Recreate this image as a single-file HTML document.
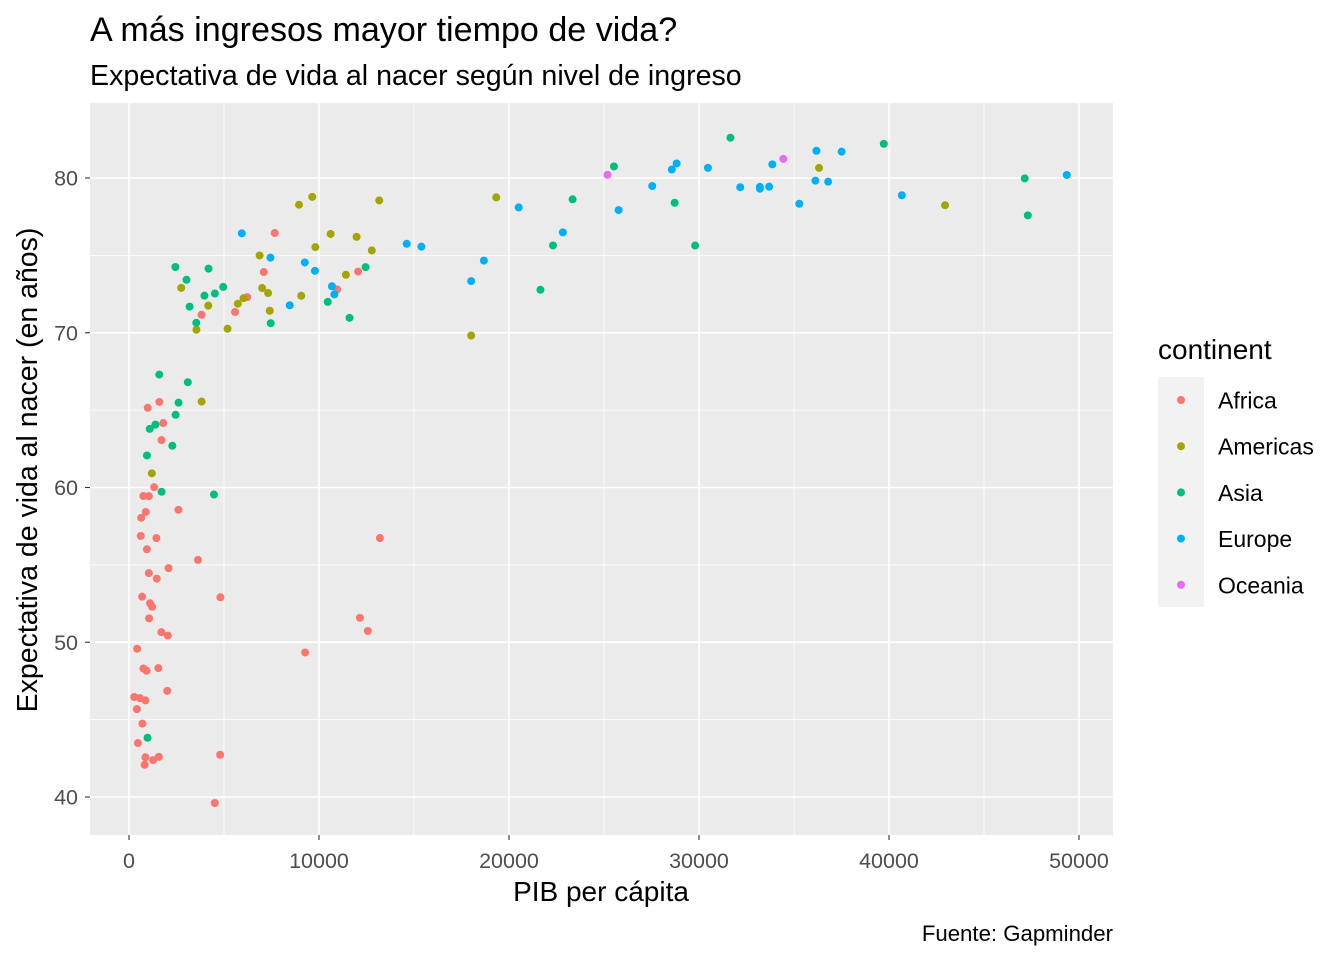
<!DOCTYPE html>
<html><head><meta charset="utf-8"><style>
body{margin:0;background:#fff;}
svg{display:block;font-family:"Liberation Sans",Arial,sans-serif;}
</style></head><body>
<svg id="chart" width="1344" height="960" xmlns="http://www.w3.org/2000/svg">
<text x="90" y="41" font-size="34.1" fill="#000">A más ingresos mayor tiempo de vida?</text>
<text x="90" y="85" font-size="28.6" fill="#000">Expectativa de vida al nacer según nivel de ingreso</text>
<rect x="90" y="103" width="1023" height="732" fill="#EBEBEB"/>
<g id="grid"></g>
<g id="points"></g>
<g id="axes"></g>
<text x="601" y="901" font-size="28" text-anchor="middle">PIB per cápita</text>
<text transform="translate(37,470) rotate(-90)" font-size="28.5" text-anchor="middle">Expectativa de vida al nacer (en años)</text>
<text x="1113" y="941" font-size="22.2" text-anchor="end">Fuente: Gapminder</text>
<g id="legend">
<text x="1158" y="359" font-size="28">continent</text>
</g>
</svg>
<script>
const continents=["Africa","Americas","Asia","Europe","Oceania"];
const colors=["#F8766D","#A3A500","#00BF7D","#00B0F6","#E76BF3"];
const xTicks=[0,10000,20000,30000,40000,50000];
const yTicks=[40,50,60,70,80];
// [gdpPercap, lifeExp] per continent
const africa=[[6223.4,72.301],[4797.2,42.731],[1441.3,56.728],[12569.9,50.728],[1217.0,52.295],[430.1,49.580],[2042.1,50.430],[706.0,44.741],[1704.1,50.651],[986.1,65.152],[277.6,46.462],[3632.6,55.322],[1544.8,48.328],[2082.5,54.791],[5581.2,71.338],[12154.1,51.579],[641.4,58.040],[690.8,52.947],[13206.5,56.735],[752.7,59.448],[1327.6,60.022],[942.7,56.007],[579.2,46.388],[1463.2,54.110],[1569.3,42.592],[414.5,45.678],[12057.5,73.952],[1044.8,59.443],[759.3,48.303],[1042.6,54.467],[1803.2,64.164],[10957.0,72.801],[3820.2,71.164],[823.7,42.082],[4811.1,52.906],[619.7,56.867],[2014.0,46.859],[7670.1,76.442],[863.1,46.242],[1598.4,65.528],[1712.5,63.062],[862.5,42.568],[926.1,48.159],[9269.7,49.339],[2602.4,58.556],[4513.5,39.613],[1107.5,52.517],[883.0,58.420],[7092.9,73.923],[1056.4,51.542],[1271.2,42.384],[469.7,43.487]];
const americas=[[12779.4,75.320],[3822.1,65.554],[9065.8,72.390],[36319.2,80.653],[13171.6,78.553],[7006.6,72.889],[9645.1,78.782],[8948.1,78.273],[6025.4,72.235],[6873.3,74.994],[5728.4,71.878],[5186.1,70.259],[1201.6,60.916],[3548.3,70.198],[7320.9,72.567],[11977.6,76.195],[2749.3,72.899],[9809.2,75.537],[4172.8,71.752],[7408.9,71.421],[19328.7,78.746],[18008.5,69.819],[42951.7,78.242],[10611.5,76.384],[11415.8,73.747]];
const asia=[[974.6,43.828],[29796.0,75.635],[1391.3,64.062],[1713.8,59.723],[4959.1,72.961],[39725.0,82.208],[2452.2,64.698],[3540.7,70.650],[11605.7,70.964],[4471.1,59.545],[25523.3,80.745],[31656.1,82.603],[4519.5,72.535],[1593.1,67.297],[23348.1,78.623],[47307.0,77.588],[10461.1,71.993],[12451.7,74.241],[3095.8,66.803],[944.0,62.069],[1091.4,63.785],[22316.2,75.640],[2605.9,65.483],[3190.5,71.688],[21654.8,72.777],[47143.2,79.972],[3970.1,72.396],[4184.5,74.143],[28718.3,78.400],[7458.4,70.616],[2441.6,74.249],[3025.3,73.422],[2280.8,62.698]];
const europe=[[5937.0,76.423],[36126.5,79.829],[33692.6,79.441],[7446.3,74.852],[10680.8,73.005],[14619.2,75.748],[22833.3,76.486],[35278.4,78.332],[33207.1,79.313],[30470.0,80.657],[32170.4,79.406],[27538.4,79.483],[18008.9,73.338],[36181.0,81.757],[40676.0,78.885],[28569.7,80.546],[9253.9,74.543],[36797.9,79.762],[49357.2,80.196],[15389.9,75.563],[20509.6,78.098],[10808.5,72.476],[9786.5,74.002],[18678.3,74.663],[25768.3,77.926],[28821.1,80.941],[33859.7,80.884],[37506.4,81.701],[8458.3,71.777],[33203.3,79.425]];
const oceania=[[34435.4,81.235],[25185.0,80.204]];
const series=[africa,americas,asia,europe,oceania];

const NS="http://www.w3.org/2000/svg";
const X=v=>129+v*0.019;
const Y=v=>178+(80-v)*15.475;
function mk(tag,attrs,parent){const e=document.createElementNS(NS,tag);for(const k in attrs)e.setAttribute(k,attrs[k]);parent.appendChild(e);return e;}
const grid=document.getElementById('grid'),pts=document.getElementById('points'),axes=document.getElementById('axes'),leg=document.getElementById('legend');
for(let i=0;i<xTicks.length;i++){const v=xTicks[i]+5000;if(X(v)<1113){const l=mk('line',{x1:X(v),x2:X(v),y1:103,y2:835,stroke:'#fff','stroke-width':0.8},grid);

}}
for(let i=0;i<yTicks.length;i++){const v=yTicks[i]+5;if(Y(v)>103){const l=mk('line',{x1:90,x2:1113,y1:Y(v),y2:Y(v),stroke:'#fff','stroke-width':0.8},grid);

}}
xTicks.forEach(v=>{const l=mk('line',{x1:X(v),x2:X(v),y1:103,y2:835,stroke:'#fff','stroke-width':1.6},grid);


const t=mk('line',{x1:X(v),x2:X(v),y1:835,y2:840,stroke:'#333','stroke-width':1.1},axes);


const tx=mk('text',{x:X(v),y:868,'font-size':21.5,fill:'#4D4D4D','text-anchor':'middle'},axes);tx.textContent=v;

});
yTicks.forEach(v=>{const l=mk('line',{x1:90,x2:1113,y1:Y(v),y2:Y(v),stroke:'#fff','stroke-width':1.6},grid);


const t=mk('line',{x1:85,x2:90,y1:Y(v),y2:Y(v),stroke:'#333','stroke-width':1.1},axes);


const tx=mk('text',{x:78,y:Y(v)+7.5,'font-size':21.5,fill:'#4D4D4D','text-anchor':'end'},axes);tx.textContent=v;

});
series.forEach((s,i)=>{s.forEach(p=>{const c=mk('circle',{cx:X(p[0]),cy:Y(p[1]),r:4,fill:colors[i]},pts);

});});
mk('rect',{x:1158,y:377,width:46,height:230,fill:'#F2F2F2'},leg);
continents.forEach((n,i)=>{const cy=400+i*46.2;
const c=mk('circle',{cx:1181,cy:cy,r:4,fill:colors[i]},leg);


const t=mk('text',{x:1218,y:cy+8.5,'font-size':23,fill:'#000'},leg);t.textContent=n;

});
</script>
</body></html>
